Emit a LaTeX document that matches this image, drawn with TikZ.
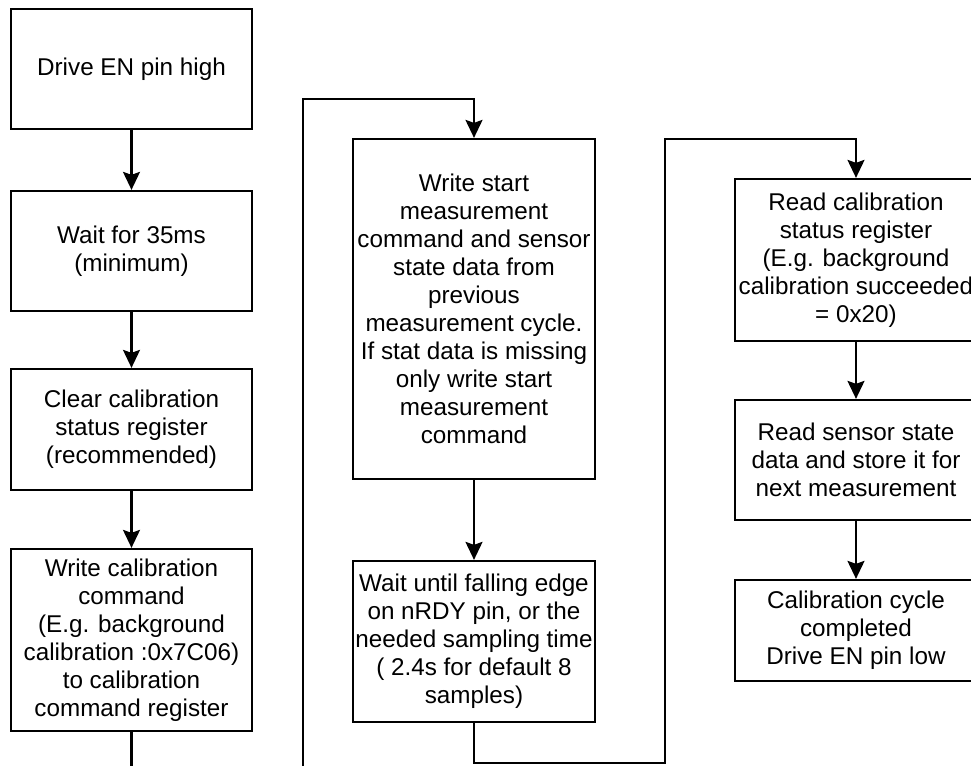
\documentclass[tikz,border=0pt]{standalone}
\usepackage{fontspec}
\setmainfont{Liberation Sans}
\usetikzlibrary{arrows.meta}

\begin{document}
\begin{tikzpicture}[x=0.02cm,y=-0.02cm,
  box/.style={draw,line width=1.3pt,align=center,inner sep=0pt,
    minimum width=4.83cm,font=\fontsize{13.8}{15.9}\selectfont},
  flow/.style={line width=1.3pt},
  >={Stealth[length=0.36cm,width=0.34cm,inset=0.06cm]}]
\useasboundingbox (0,0) rectangle (971,765);
\clip (0,0) rectangle (971,765);

\node[box,minimum height=2.4cm] (enhigh) at (131.5,69) {Drive EN pin high};
\node[box,minimum height=2.4cm] (wait35) at (131.5,251) {Wait for 35ms\\(minimum)};
\node[box,minimum height=2.42cm] (clrstat) at (131.5,429.5) {Clear calibration\\status register\\(recommended)};
\node[box,minimum height=3.64cm] (wrcal) at (131.5,640) {Write calibration\\command\\(E.g. background\\calibration :0x7C06)\\to calibration\\command register};

\node[box,minimum height=6.8cm] (wrstart) at (474,309) {Write start\\measurement\\command and sensor\\state data from\\previous\\measurement cycle.\\If stat data is missing\\only write start\\measurement\\command};
\node[box,minimum height=3.22cm] (waitrdy) at (474,641.5) {Wait until falling edge\\on nRDY pin, or the\\needed sampling time\\( 2.4s for default 8\\samples)};

\node[box,minimum height=3.24cm] (rdstat) at (856,260) {Read calibration\\status register\\(E.g. background\\calibration succeeded\\= 0x20)};
\node[box,minimum height=2.4cm] (rdstate) at (856,460) {Read sensor state\\data and store it for\\next measurement};
\node[box,minimum height=2.02cm] (done) at (856,630.5) {Calibration cycle\\completed\\Drive EN pin low};

\draw[flow,->] (enhigh) -- (wait35);
\draw[flow,->] (wait35) -- (clrstat);
\draw[flow,->] (clrstat) -- (wrcal);
\draw[flow,->] (wrcal.south) -- ++(0,60) -| (303,99) -| (wrstart.north);
\draw[flow,->] (wrstart) -- (waitrdy);
\draw[flow,->] (waitrdy.south) -- ++(0,40) -| (665,139) -| (rdstat.north);
\draw[flow,->] (rdstat) -- (rdstate);
\draw[flow,->] (rdstate) -- (done);

\end{tikzpicture}
\end{document}
